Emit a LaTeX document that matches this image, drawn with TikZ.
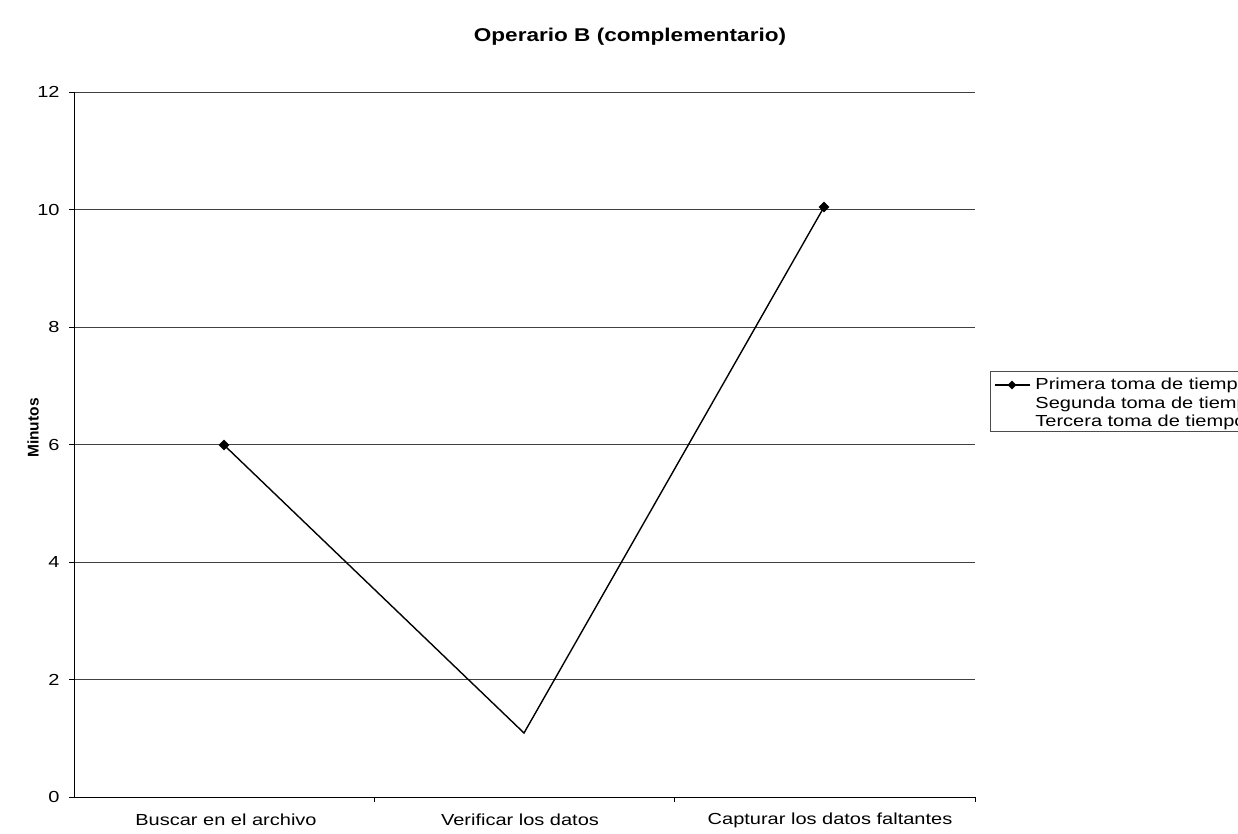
\documentclass[tikz,border=0pt]{standalone}
\usepackage{fontspec}
\setmainfont{Liberation Sans}
\usetikzlibrary{positioning,shapes.geometric}

\begin{document}
\begin{tikzpicture}[x=1pt,y=-1pt,
  grid/.style={black!75,line width=0.6pt},
  axis/.style={black,line width=0.8pt},
  serie/.style={black,line width=1.4pt},
  marca/.style={diamond,fill=black,inner sep=0pt,minimum size=11pt},
  lbl/.style={font=\fontsize{16}{18}\selectfont,xscale=1.25},
  tit/.style={font=\bfseries\fontsize{18.5}{20}\selectfont,xscale=1.22}]
  \useasboundingbox (0,0) rectangle (1238,833);
  \clip (0,0) rectangle (1238,833);

  \node[tit] (titulo) at (630,37) {Operario B (complementario)};

  % grid lines and y axis
  \foreach \v in {2,4,...,12}
    \draw[grid] (74,797-58.75*\v) -- (975,797-58.75*\v);
  \foreach \v in {0,2,...,12} {
    \draw[axis] (69,797-58.75*\v) -- (74,797-58.75*\v);
    \node[lbl,anchor=east] (t\v) at (64,797-58.75*\v) {\v};
  }
  \draw[axis] (74,92) -- (74,797) -- (975,797);
  \foreach \x in {374,674,975}
    \draw[axis] (\x,797) -- (\x,802);

  \node[font=\bfseries\fontsize{15.5}{17}\selectfont,rotate=90] (ytit) at (33,428) {Minutos};

  % categories
  \node[lbl] (c1) at (226,820) {Buscar en el archivo};
  \node[lbl] (c2) at (520,820) {Verificar los datos};
  \node[lbl] (c3) at (830,820) {Capturar los datos faltantes};

  % data
  \node[marca] (p1) at (224,445) {};
  \coordinate (p2) at (524,733);
  \node[marca] (p3) at (824,207) {};
  \draw[serie] (p1.center) -- (p2) -- (p3.center);

  % legend
  \draw[black!70,line width=0.7pt] (1238,371) -- (990,371) -- (990,431) -- (1238,431);
  \coordinate (l1) at (995,385);
  \coordinate (l2) at (1030,385);
  \draw[serie] (l1) -- (l2);
  \node[marca,minimum size=9pt] (lm) at (1012,385) {};
  \node[lbl,anchor=west] (e1) at (1031,385) {Primera toma de tiempo};
  \node[lbl,anchor=west] (e2) at (1031,404) {Segunda toma de tiempo};
  \node[lbl,anchor=west] (e3) at (1031,422) {Tercera toma de tiempo};
\end{tikzpicture}
\end{document}
